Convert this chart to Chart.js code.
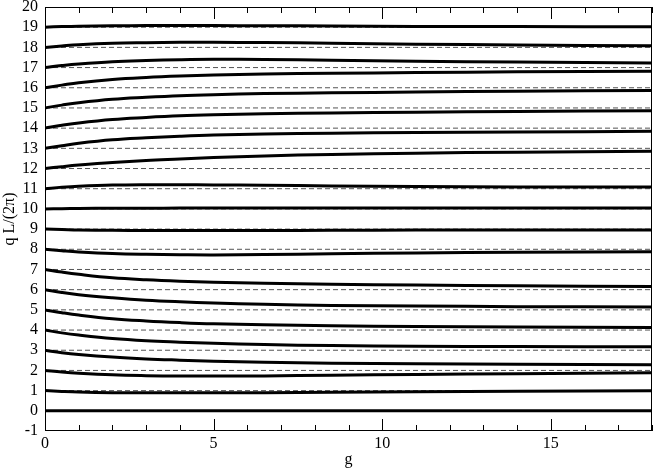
<!DOCTYPE html>
<html><head><meta charset="utf-8">
<script src="https://cdn.jsdelivr.net/npm/chart.js@4.4.0/dist/chart.umd.min.js"></script>
<style>html,body{margin:0;padding:0;background:#fff}#wrap{width:654px;height:469px}</style>
</head><body><div id="wrap"><canvas id="c" width="654" height="469"></canvas></div>
<script>
// coupling strength g (x values shared by all branches)
const gValues = [0, 0.5, 1, 2, 3, 4, 5, 6.5, 8.5, 11, 14, 18];

// q L/(2π) for each branch
const branch0  = [0, 0, 0, 0, 0, 0, 0, 0, 0, 0, 0, 0];
const branch1  = [1, 0.96, 0.93, 0.90, 0.89, 0.89, 0.89, 0.90, 0.92, 0.95, 0.97, 0.99];
const branch2  = [2, 1.92, 1.86, 1.78, 1.74, 1.72, 1.72, 1.73, 1.76, 1.80, 1.84, 1.88];
const branch3  = [3, 2.88, 2.79, 2.66, 2.57, 2.51, 2.46, 2.41, 2.36, 2.33, 2.30, 2.28];
const branch4  = [4, 3.86, 3.75, 3.58, 3.47, 3.40, 3.34, 3.28, 3.23, 3.20, 3.18, 3.17];
const branch5  = [5, 4.86, 4.74, 4.56, 4.45, 4.37, 4.31, 4.26, 4.21, 4.18, 4.15, 4.12];
const branch6  = [6, 5.86, 5.75, 5.60, 5.48, 5.40, 5.34, 5.28, 5.22, 5.19, 5.16, 5.14];
const branch7  = [7, 6.87, 6.76, 6.59, 6.49, 6.42, 6.37, 6.32, 6.27, 6.23, 6.19, 6.16];
const branch8  = [8, 7.93, 7.87, 7.79, 7.75, 7.73, 7.72, 7.74, 7.78, 7.82, 7.85, 7.88];
const branch9  = [9, 8.98, 8.96, 8.94, 8.93, 8.93, 8.93, 8.93, 8.94, 8.95, 8.96, 8.96];
const branch10 = [10, 10.01, 10.02, 10.03, 10.03, 10.04, 10.04, 10.04, 10.04, 10.04, 10.04, 10.04];
const branch11 = [11, 11.07, 11.12, 11.18, 11.20, 11.20, 11.19, 11.17, 11.14, 11.11, 11.09, 11.08];
const branch12 = [12, 12.09, 12.17, 12.30, 12.40, 12.47, 12.54, 12.62, 12.70, 12.76, 12.81, 12.85];
const branch13 = [13, 13.13, 13.25, 13.42, 13.52, 13.60, 13.66, 13.71, 13.75, 13.78, 13.81, 13.84];
const branch14 = [14, 14.14, 14.26, 14.43, 14.53, 14.61, 14.66, 14.71, 14.75, 14.79, 14.83, 14.86];
const branch15 = [15, 15.14, 15.26, 15.43, 15.53, 15.61, 15.66, 15.71, 15.75, 15.79, 15.83, 15.86];
const branch16 = [16, 16.13, 16.25, 16.41, 16.51, 16.58, 16.63, 16.68, 16.72, 16.75, 16.79, 16.82];
const branch17 = [17, 17.10, 17.18, 17.29, 17.35, 17.39, 17.41, 17.40, 17.36, 17.31, 17.27, 17.23];
const branch18 = [18, 18.07, 18.13, 18.20, 18.23, 18.25, 18.25, 18.24, 18.21, 18.16, 18.12, 18.08];
const branch19 = [19, 19.03, 19.05, 19.07, 19.08, 19.08, 19.08, 19.07, 19.06, 19.04, 19.03, 19.02];

const branches = [branch0, branch1, branch2, branch3, branch4, branch5, branch6, branch7, branch8, branch9,
  branch10, branch11, branch12, branch13, branch14, branch15, branch16, branch17, branch18, branch19];

// dashed reference levels (integers)
const dashedLevels = [0,1,2,3,4,5,6,7,8,9,10,11,12,13,14,15,16,17,18,19];
const gRange = [0, 18];

// ticks
const xTickLabels = [0, 5, 10, 15];
const xMinorTicks = [0,1,2,3,4,5,6,7,8,9,10,11,12,13,14,15,16,17,18];
const yTickLabels = [-1,0,1,2,3,4,5,6,7,8,9,10,11,12,13,14,15,16,17,18,19,20];

const FONT = "'Liberation Serif', 'Times New Roman', serif";

const datasets = [];
dashedLevels.forEach(v => {
  datasets.push({
    data: gRange.map(g => ({x: g, y: v})),
    borderColor: '#555', borderWidth: 1, borderDash: [5, 3],
    pointRadius: 0, fill: false, order: 1, tension: 0
  });
});
branches.forEach(arr => {
  datasets.push({
    data: gValues.map((g, i) => ({x: g, y: arr[i]})),
    borderColor: '#000', borderWidth: 3,
    cubicInterpolationMode: 'default', tension: 0.4,
    pointRadius: 0, fill: false, order: 0
  });
});

const frameTicks = {
  id: 'frameTicks',
  afterDraw(chart) {
    const {ctx, chartArea: a, scales: {x}} = chart;
    ctx.save();
    ctx.strokeStyle = '#000';
    ctx.lineWidth = 1;
    ctx.strokeRect(a.left + 0.5, a.top + 0.5, a.right - a.left - 1, a.bottom - a.top - 1);
    ctx.beginPath();
    xMinorTicks.forEach(v => {
      const px = Math.round(x.getPixelForValue(v)) + 0.5;
      const len = xTickLabels.includes(v) ? 12 : 6;
      ctx.moveTo(px, a.bottom); ctx.lineTo(px, a.bottom - len);
      ctx.moveTo(px, a.top); ctx.lineTo(px, a.top + len);
    });
    ctx.stroke();
    ctx.restore();
  }
};

new Chart(document.getElementById('c'), {
  type: 'line',
  data: {datasets},
  options: {
    responsive: false, animation: false, devicePixelRatio: 1,
    layout: {padding: {top: 7, right: 2, left: 0, bottom: 0}},
    plugins: {legend: {display: false}, tooltip: {enabled: false}},
    scales: {
      x: {
        type: 'linear', min: 0, max: 18,
        afterBuildTicks: ax => { ax.ticks = xTickLabels.map(v => ({value: v})); },
        afterFit: ax => { ax.height = 38; ax.paddingLeft = 0; ax.paddingRight = 0; },
        grid: {display: false, drawTicks: false},
        border: {display: false},
        ticks: {color: '#000', font: {family: FONT, size: 16}, padding: 3, maxRotation: 0, autoSkip: false},
        title: {display: true, text: 'g', color: '#000', font: {family: FONT, size: 16}, padding: 0}
      },
      y: {
        type: 'linear', min: -1, max: 20,
        afterBuildTicks: ax => { ax.ticks = yTickLabels.map(v => ({value: v})); },
        afterFit: ax => { ax.width = 45; ax.paddingTop = 0; ax.paddingBottom = 0; },
        grid: {display: false, drawTicks: false},
        border: {display: false},
        ticks: {color: '#000', font: {family: FONT, size: 16}, padding: 7, autoSkip: false},
        title: {display: true, text: 'q L/(2π)', color: '#000', font: {family: FONT, size: 16}, padding: 0}
      }
    }
  },
  plugins: [frameTicks]
});
</script></body></html>
